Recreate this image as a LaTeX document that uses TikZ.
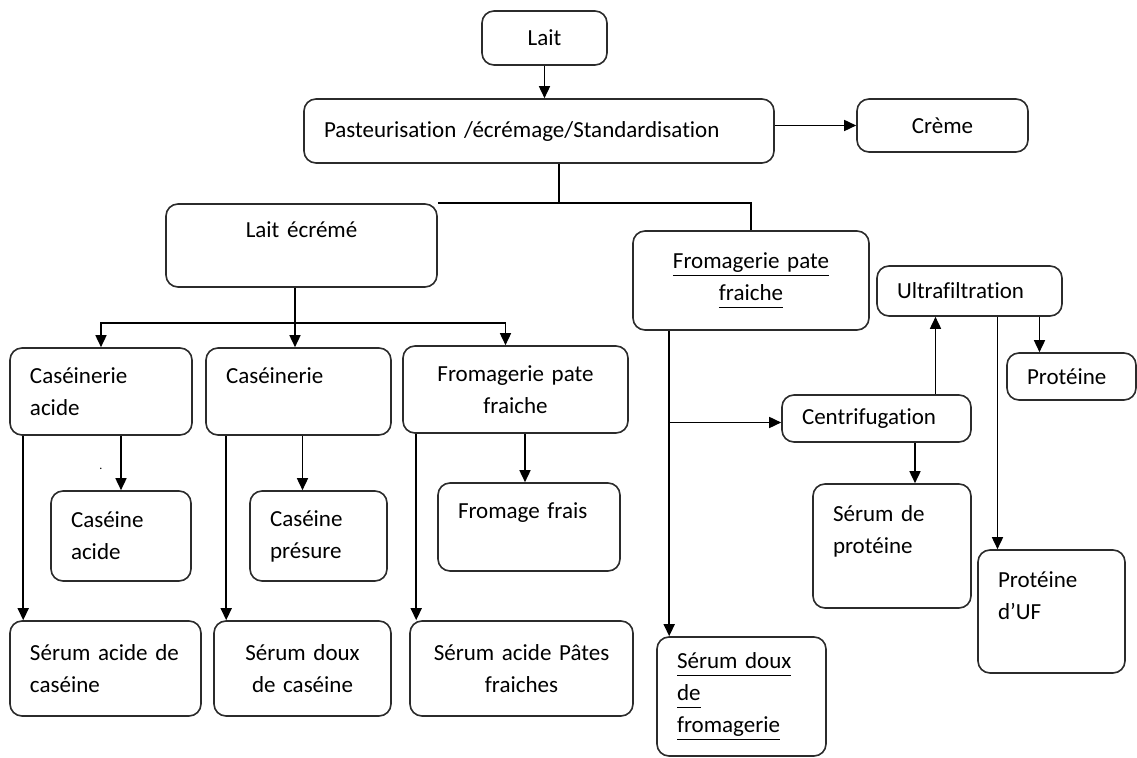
\documentclass[tikz,border=0pt]{standalone}
\usepackage{fontspec}
\setmainfont{Carlito}[Ligatures=CommonOff]
\usetikzlibrary{arrows.meta}
\definecolor{edge}{HTML}{2B2B2B}
\newcommand{\ulword}[1]{\underline{#1\vphantom{g}}}
\tikzset{
  box/.style={
    draw=edge, line width=0.8pt, rounded corners=6pt,
    inner xsep=10pt, inner ysep=0pt,
    align=left, font=\fontsize{11.5}{16}\selectfont
  },
  cbox/.style={box, align=center},
  arrow/.style={-{Triangle[length=6pt,width=5.5pt]}, line width=0.8pt},
  link/.style={line width=0.8pt}
}
\begin{document}
\begin{tikzpicture}[x=0.5pt, y=-0.5pt]
  \fill[white] (0,0) rectangle (1137,758);
  \useasboundingbox (0,0) rectangle (1137,758);
  % top of the chain
  \node[cbox, text width=42.5pt, minimum height=27pt] (lait) at (544.5,38) {Lait};
  \node[box, text width=215pt, minimum height=32pt] (past) at (539,131) {Pasteurisation /écrémage/Standardisation};
  \node[cbox, text width=65.5pt, minimum height=26.5pt] (creme) at (942.5,125.5) {Crème};
  \node[cbox, text width=115.5pt, minimum height=41.5pt] (ecreme) at (301.5,245.5) {Lait~écrémé\\\mbox{}};
  \node[cbox, text width=98pt, minimum height=49.5pt] (froma) at (751,280.5) {\ulword{Fromagerie pate}\\\ulword{fraiche}};
  % left branches
  \node[box, text width=71pt, minimum height=43.5pt] (casa) at (101,391.5) {Caséinerie\\acide};
  \node[box, text width=72.5pt, minimum height=43.5pt] (cas) at (298.5,391.5) {Caséinerie\\\mbox{}};
  \node[cbox, text width=92.5pt, minimum height=43.5pt] (fromb) at (515.5,389.5) {Fromagerie~pate\\fraiche};
  \node[box, text width=50pt, minimum height=45pt] (casac) at (121,536) {Caséine\\acide};
  \node[box, text width=48.5pt, minimum height=45pt] (caspr) at (318.5,536) {Caséine\\présure};
  \node[box, text width=71pt, minimum height=44pt] (frais) at (529,527) {Fromage~frais\\\mbox{}};
  \node[box, text width=75.5pt, minimum height=47.5pt] (sera) at (105.5,668.5) {Sérum~acide~de\\caséine};
  \node[cbox, text width=68.5pt, minimum height=47.5pt] (serd) at (302.5,668.5) {Sérum~doux\\de~caséine};
  \node[cbox, text width=91.5pt, minimum height=47.5pt] (serp) at (521.5,668.5) {Sérum~acide~Pâtes\\fraiches};
  \node[font=\fontsize{6}{6}\selectfont, inner sep=0pt] (dot) at (101,469) {.};
  % right branches
  \node[box, text width=64.5pt, minimum height=59.5pt] (serf) at (741.5,696.5) {\ulword{Sérum doux}\\\ulword{de}\\\ulword{fromagerie}};
  \node[box, text width=74.5pt, minimum height=23.5pt] (centri) at (876.5,418.5) {Centrifugation};
  \node[box, text width=72.5pt, minimum height=25pt] (ultra) at (969.5,291) {Ultrafiltration};
  \node[box, text width=44.5pt, minimum height=23.5pt] (prot) at (1071.5,376.5) {Protéine};
  \node[box, text width=59pt, minimum height=62pt] (serpr) at (892,546) {Sérum~de\\protéine\\\mbox{}};
  \node[box, text width=53.5pt, minimum height=61.5pt] (protuf) at (1051.5,611.5) {Protéine\\d’UF\\\mbox{}};

  \draw[arrow] (lait.south) -- (lait.south |- past.north);
  \draw[arrow] (creme.west -| past.east) -- (creme.west);
  \draw[link] ([xshift=10pt]past.south) -- ([xshift=10pt]past.south |- ecreme.north);
  \draw[link] (ecreme.north east) -- (ecreme.north east -| froma.north) -- (froma.north);
  \coordinate (split) at (295,323);
  \draw[link] (ecreme.south -| split) -- (split);
  \draw[arrow] (split) -- (split |- cas.north);
  \draw[arrow] (split) -| (casa.north);
  \draw[arrow] (split) -| ([xshift=-5pt]fromb.north);
  \draw[arrow] ([xshift=7pt]casa.south west) -- ([xshift=7pt]casa.south west |- sera.north);
  \draw[arrow] (casac.north |- casa.south) -- (casac.north);
  \draw[arrow] ([xshift=10.5pt]cas.south west) -- ([xshift=10.5pt]cas.south west |- serd.north);
  \draw[arrow] ([xshift=-8pt]caspr.north |- cas.south) -- ([xshift=-8pt]caspr.north);
  \draw[arrow] ([xshift=7pt]fromb.south west) -- ([xshift=7pt]fromb.south west |- serp.north);
  \draw[arrow] ([xshift=-2pt]frais.north |- fromb.south) -- ([xshift=-2pt]frais.north);
  \coordinate (fa) at ([xshift=18.5pt]froma.south west);
  \draw[link] (froma.south -| fa) -- (fa);
  \draw[arrow] (fa) -- (fa |- serf.north);
  \draw[arrow] ([yshift=-2pt]fa |- centri.west) -- ([yshift=-2pt]centri.west);
  \draw[arrow] ([xshift=-17pt]ultra.south |- centri.north) -- ([xshift=-17pt]ultra.south);
  \draw[arrow] ([xshift=11.5pt]serpr.north |- centri.south) -- ([xshift=11.5pt]serpr.north);
  \draw[arrow] ([xshift=-16pt]prot.north |- ultra.south) -- ([xshift=-16pt]prot.north);
  \draw[arrow] ([xshift=-27pt]protuf.north |- ultra.south) -- ([xshift=-27pt]protuf.north);
\end{tikzpicture}
\end{document}
